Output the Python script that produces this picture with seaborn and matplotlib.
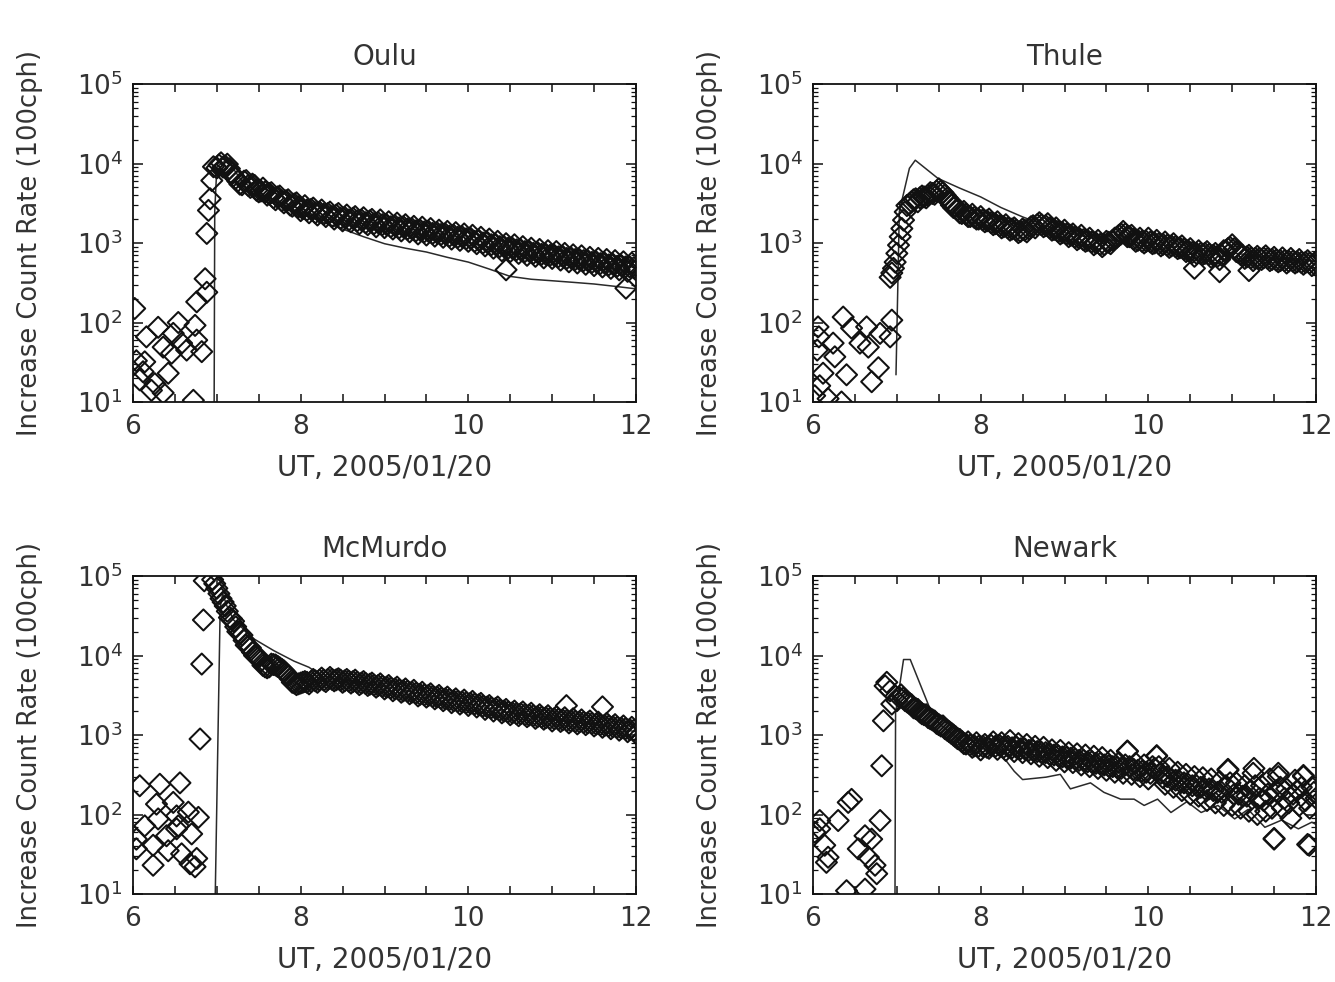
import numpy as np
import pandas as pd
import matplotlib
matplotlib.use("Agg")
import matplotlib.pyplot as plt
import seaborn as sns
from matplotlib.ticker import LogLocator, MultipleLocator, LogFormatterSciNotation, NullFormatter

# ---------------- data ----------------
STATIONS = ["Oulu", "Thule", "McMurdo", "Newark"]
X_TICKS = [6, 8, 10, 12]
X_LABEL = "UT, 2005/01/20"
Y_LABEL = "Increase Count Rate (100cph)"
STEP_H = 0.05  # sampling of each dense post-onset observation series (3 min)

# --- Oulu ---
OULU_PTS_T = [6.02, 6.04, 6.08, 6.12, 6.14, 6.16, 6.22, 6.26, 6.30, 6.36, 6.36, 6.42, 6.46, 6.48,
              6.54, 6.58, 6.64, 6.72, 6.74, 6.76, 6.76, 6.82, 6.86, 6.88, 6.88, 6.90, 6.92, 6.94,
              6.96, 10.45, 11.88]
OULU_PTS_V = [150, 33, 19, 24, 32, 66, 14, 17, 87, 13, 49, 23, 41, 73,
              100, 55, 45, 10.5, 92, 60, 182, 43, 355, 240, 1320, 2570, 3600, 6100,
              9100, 460, 270]
OULU_POST_START = 7.00
OULU_POST_V = [8800, 10200, 9300, 8600, 7000, 6000, 5400, 6100, 5000, 5300, 4400, 4900, 4000, 4300,
               3500, 3900, 3200, 3500, 2900, 3200,
               2550, 2950, 2400, 2750, 2250, 2600, 2150, 2450, 2000, 2350, 1900, 2250, 1850, 2150,
               1750, 2080, 1700, 1980, 1600, 1950,
               1560, 1850, 1500, 1780, 1420, 1700, 1380, 1620, 1300, 1580, 1260, 1520, 1220, 1450,
               1180, 1400, 1120, 1350, 1080, 1300,
               1050, 1250, 980, 1180, 920, 1120, 860, 1050, 800, 980, 780, 950, 740, 900,
               700, 860, 680, 830, 650, 800,
               640, 780, 610, 740, 580, 710, 560, 690, 540, 660, 520, 640, 500, 620,
               480, 600, 460, 580, 440, 560,
               460]
OULU_POST2_START = 7.025
OULU_POST2_V = [9600, 9000, 9800, 7600, 6500, 5500, 6000, 5300, 5500, 4600, 4500, 4400, 4200, 3700,
                3800, 3400, 3400, 3000, 3100, 2850,
                2700, 2600, 2650, 2400, 2450, 2300, 2350, 2150, 2250, 2050, 2100, 1950, 2050, 1900,
                1950, 1800, 1900, 1750, 1800, 1700,
                1700, 1600, 1650, 1550, 1600, 1500, 1520, 1420, 1450, 1380, 1400, 1320, 1350, 1280,
                1300, 1220, 1250, 1180, 1200, 1130,
                1150, 1050, 1080, 1000, 1020, 950, 960, 900, 900, 860, 860, 820, 820, 780,
                790, 740, 760, 720, 720, 700,
                700, 670, 680, 640, 650, 620, 620, 600, 600, 570, 580, 550, 560, 530,
                540, 510, 520, 500, 500, 490]
OULU_MODEL_T = [6.965, 6.975, 7.00, 7.05, 7.12, 7.20, 7.30, 7.50, 7.75, 8.00, 8.25, 8.50, 8.75, 9.00,
                9.25, 9.50, 9.75, 10.00, 10.25, 10.50, 10.75, 11.00, 11.25, 11.50, 11.75, 12.00]
OULU_MODEL_V = [1, 2500, 9000, 10000, 11000, 8500, 6000, 4300, 3200, 2350, 1850, 1500, 1200, 980,
                860, 770, 660, 575, 470, 380, 350, 335, 320, 305, 285, 265]

# --- Thule ---
THULE_PTS_T = [6.02, 6.05, 6.06, 6.07, 6.08, 6.12, 6.18, 6.24, 6.26, 6.34, 6.36, 6.40, 6.46, 6.56,
               6.64, 6.66, 6.70, 6.78, 6.80, 6.92, 6.94,
               6.92, 6.94, 6.96, 6.98, 7.00, 7.02, 7.04, 7.06, 7.08, 7.10, 7.12,
               10.55, 10.85, 11.20]
THULE_PTS_V = [12, 45, 88, 66, 16, 23, 11, 55, 37, 10, 117, 22, 85, 55,
               88, 49, 18, 27, 73, 66, 107,
               370, 420, 480, 575, 740, 940, 1200, 1520, 1940, 2460, 2960,
               480, 435, 450]
THULE_POST_START = 7.15
THULE_POST_V = [3100, 3500, 3300, 3900, 3700, 4300, 4100, 4800, 4300, 3700, 3000, 2900, 2400, 2500,
                2150, 2300, 2000,
                2150, 1850, 2000, 1700, 1850, 1550, 1700, 1450, 1550, 1350, 1500, 1380, 1600, 1550,
                1800, 1600, 1750, 1450, 1550, 1300,
                1450, 1200, 1300, 1100, 1250, 1050, 1150, 950, 1080, 900, 1050, 980, 1150, 1250,
                1400, 1200, 1250, 1050, 1150, 1000,
                1150, 980, 1080, 920, 1030, 880, 980, 850, 920, 780, 850, 680, 800, 720,
                780, 660, 740, 620, 800, 850,
                950, 780, 720, 640, 700, 600, 680, 620, 690, 600, 660, 580, 650, 560,
                640, 560, 620, 540, 600, 520,
                580]
THULE_POST2_START = 7.175
THULE_POST2_V = [3300, 3600, 3700, 3800, 4000, 4200, 4500, 4500, 4000, 3300, 2800, 2600, 2350, 2300,
                 2150, 2100, 2000,
                 1950, 1900, 1800, 1750, 1650, 1600, 1550, 1500, 1450, 1400, 1450, 1500, 1650, 1700,
                 1700, 1650, 1550, 1480, 1400, 1350,
                 1300, 1250, 1180, 1150, 1100, 1080, 1030, 1000, 960, 950, 1020, 1080, 1180, 1300,
                 1300, 1200, 1120, 1080, 1050, 1050,
                 1030, 1000, 980, 960, 940, 920, 900, 870, 840, 800, 760, 740, 740, 740,
                 720, 700, 680, 700, 800, 880,
                 850, 760, 700, 670, 650, 640, 640, 650, 640, 620, 610, 600, 600, 590,
                 590, 580, 570, 570, 560, 550]
THULE_MODEL_T = [6.99, 7.03, 7.15, 7.22, 7.49, 7.75, 8.00, 8.24, 8.50, 8.75, 9.00, 9.50, 10.00,
                 10.50, 11.00, 11.50, 12.00]
THULE_MODEL_V = [22, 2500, 8700, 11000, 6500, 4900, 3800, 2800, 2130, 1700, 1350, 1100, 1000,
                 850, 750, 650, 600]

# --- McMurdo ---
MCMURDO_PTS_T = [6.08, 6.32, 6.56, 6.28, 6.48, 6.14, 6.30, 6.52, 6.66, 6.78, 6.04, 6.24, 6.40,
                 6.52, 6.54, 6.70, 6.42, 6.58, 6.24, 6.68, 6.76, 6.74, 6.04,
                 6.80, 6.82, 6.84, 6.85, 11.17, 11.60]
MCMURDO_PTS_V = [230, 240, 250, 135, 142, 72, 88, 96, 107, 92, 49, 41, 54,
                 66, 72, 57, 35, 32, 23, 24, 28, 22, 37,
                 890, 7800, 28000, 87000, 2340, 2260]
MCMURDO_POST_START = 6.95
MCMURDO_POST_V = [90000,
                  70000, 52000, 42000, 30000, 27000, 20000, 18000, 13500, 12500, 10000, 9500, 7500,
                  7000, 7800, 7600, 7000, 6400, 5600, 4600, 4300,
                  4500, 4700, 4400, 5000, 4600, 5200, 4700, 5300, 4800, 5100, 4600, 5000, 4500,
                  4900, 4300, 4700, 4200, 4500, 4000, 4400,
                  3800, 4200, 3600, 4000, 3450, 3800, 3300, 3650, 3100, 3450, 3000, 3300, 2850,
                  3150, 2700, 3000, 2550, 2850, 2450, 2750,
                  2350, 2650, 2250, 2500, 2100, 2350, 2000, 2250, 1900, 2100, 1800, 2000, 1750,
                  1950, 1700, 1880, 1620, 1800, 1580, 1750,
                  1500, 1700, 1480, 1650, 1420, 1600, 1380, 1550, 1350, 1500, 1300, 1450, 1250,
                  1400, 1200, 1350, 1150, 1300, 1100, 1250,
                  1050]
MCMURDO_POST2_START = 6.975
MCMURDO_POST2_V = [80000, 60000, 47000, 36000, 29000, 23000, 19000, 15500, 13000, 11000, 9800, 8500,
                   7200, 7200, 7700, 7300, 6700, 6000, 5100, 4500, 4400,
                   4600, 4600, 4700, 4800, 4900, 4900, 5000, 5000, 4950, 4900, 4800, 4750, 4700,
                   4600, 4500, 4450, 4350, 4250, 4200, 4100,
                   4000, 3900, 3800, 3700, 3600, 3550, 3450, 3350, 3250, 3200, 3150, 3050, 3000,
                   2900, 2850, 2800, 2700, 2650, 2600, 2550,
                   2500, 2450, 2400, 2300, 2250, 2200, 2150, 2050, 2000, 1950, 1900, 1850, 1850,
                   1800, 1780, 1750, 1700, 1680, 1650, 1620,
                   1600, 1580, 1550, 1520, 1500, 1480, 1460, 1440, 1420, 1400, 1370, 1350, 1320,
                   1300, 1270, 1250, 1220, 1200, 1170, 1150]
MCMURDO_MODEL_T = [6.965, 7.04, 7.07, 7.12, 7.20, 7.45, 7.68, 7.92, 8.10, 8.25, 8.50, 9.00, 9.50,
                   10.00, 10.50, 11.00, 11.50, 12.00]
MCMURDO_MODEL_V = [1, 40000, 60000, 42000, 28000, 16000, 11500, 8500, 7100, 5500, 5000, 4100, 3200,
                   2500, 1900, 1550, 1350, 1100]

# --- Newark ---
NEWARK_PTS_T = [6.02, 6.08, 6.08, 6.14, 6.18, 6.16, 6.30, 6.42, 6.46, 6.40, 6.62, 6.54, 6.62,
                6.70, 6.66, 6.74, 6.76, 6.80, 6.82, 6.84, 6.86, 6.88, 6.92, 6.94,
                9.75, 10.10, 10.95, 11.26, 11.55, 11.85, 11.50, 11.92]
NEWARK_PTS_V = [60, 84, 66, 41, 29, 25, 84, 142, 155, 11, 11.5, 37, 54,
                49, 29, 23, 18, 84, 410, 1510, 4150, 4600, 3600, 2450,
                630, 550, 370, 380, 330, 310, 49, 41]
NEWARK_POST_START = 7.00
NEWARK_POST_V = [2700, 3200, 2700, 2500, 2200, 2100, 1850, 1800, 1600, 1500, 1350, 1300, 1150, 1050,
                 950, 880, 780, 820, 700, 800,
                 650, 760, 680, 820, 660, 800, 640, 850, 620, 780, 600, 760, 580, 720,
                 540, 700, 520, 650, 480, 640,
                 460, 600, 450, 580, 420, 560, 400, 540, 380, 520, 360, 480, 340, 450,
                 330, 620, 320, 440, 300, 420,
                 280, 400, 540, 330, 240, 380, 220, 340, 200, 320, 180, 300, 170, 290,
                 150, 280, 140, 260, 130, 360,
                 130, 250, 120, 230, 110, 330, 100, 230, 110, 280, 50, 300, 120, 210,
                 90, 270, 130, 300, 42, 220,
                 160]
NEWARK_POST2_START = 7.025
NEWARK_POST2_V = [3000, 2900, 2600, 2400, 2150, 1950, 1800, 1650, 1550, 1400, 1300, 1200, 1100, 1000,
                  900, 830, 770, 750, 730, 720,
                  720, 700, 740, 720, 740, 700, 720, 690, 700, 670, 670, 640, 640, 620,
                  600, 600, 570, 560, 550, 530,
                  520, 510, 500, 480, 480, 460, 460, 440, 440, 420, 410, 400, 390, 380,
                  420, 400, 370, 360, 350, 340,
                  330, 380, 400, 290, 300, 280, 270, 260, 250, 240, 230, 230, 220, 210,
                  210, 200, 190, 190, 230, 250,
                  180, 180, 170, 170, 200, 230, 160, 150, 180, 120, 200, 220, 160, 140,
                  180, 200, 220, 150, 120, 190]
NEWARK_MODEL_T = [6.975, 6.985, 7.08, 7.16, 7.38, 7.50, 7.75, 8.00, 8.20, 8.30, 8.40, 8.50, 8.78,
                  8.95, 9.07, 9.31, 9.47, 9.67, 9.83, 9.95, 10.11, 10.27, 10.46, 10.63, 10.83,
                  11.03, 11.19, 11.39, 11.59, 11.79, 11.95, 12.00]
NEWARK_MODEL_V = [1, 1900, 8900, 8900, 2350, 1400, 850, 700, 600, 480, 350, 275, 295,
                  320, 210, 250, 190, 156, 156, 130, 156, 106, 145, 106, 130,
                  88, 116, 69, 85, 66, 80, 75]

PANELS = {
    "Oulu": (OULU_PTS_T, OULU_PTS_V, [(OULU_POST_START, OULU_POST_V), (OULU_POST2_START, OULU_POST2_V)],
             OULU_MODEL_T, OULU_MODEL_V),
    "Thule": (THULE_PTS_T, THULE_PTS_V,
              [(THULE_POST_START, THULE_POST_V), (THULE_POST2_START, THULE_POST2_V)],
              THULE_MODEL_T, THULE_MODEL_V),
    "McMurdo": (MCMURDO_PTS_T, MCMURDO_PTS_V,
                [(MCMURDO_POST_START, MCMURDO_POST_V), (MCMURDO_POST2_START, MCMURDO_POST2_V)],
                MCMURDO_MODEL_T, MCMURDO_MODEL_V),
    "Newark": (NEWARK_PTS_T, NEWARK_PTS_V,
               [(NEWARK_POST_START, NEWARK_POST_V), (NEWARK_POST2_START, NEWARK_POST2_V)],
               NEWARK_MODEL_T, NEWARK_MODEL_V),
}

# ---------------- style ----------------
sns.set_style("ticks")
plt.rcParams["font.family"] = ["DejaVu Sans"]
plt.rcParams["mathtext.fontset"] = "dejavusans"
plt.rcParams["mathtext.default"] = "regular"
TXT = "#333333"

fig = plt.figure(figsize=(13.35, 9.82), dpi=100)
W, H = 1335.0, 982.0
boxes = {
    "Oulu": (133, 84, 636, 402),
    "Thule": (813, 84, 1316, 402),
    "McMurdo": (133, 576, 636, 894),
    "Newark": (813, 576, 1316, 894),
}

for name in STATIONS:
    x0, y0, x1, y1 = boxes[name]
    ax = fig.add_axes([x0 / W, 1 - y1 / H, (x1 - x0) / W, (y1 - y0) / H])
    pts_t, pts_v, series, mod_t, mod_v = PANELS[name]
    all_t, all_v = list(pts_t), list(pts_v)
    for start, vals in series:
        all_t += list(np.round(start + STEP_H * np.arange(len(vals)), 3))
        all_v += list(vals)
    obs = pd.DataFrame({"t": all_t, "v": all_v})
    model = pd.DataFrame({"t": mod_t, "v": mod_v})

    ax.set_yscale("log")
    sns.lineplot(data=model, x="t", y="v", estimator=None, sort=False, color="#2a2a2a",
                 linewidth=1.1, ax=ax, zorder=2)
    sns.scatterplot(data=obs, x="t", y="v", marker="D", s=115, facecolor="none",
                    edgecolor="#111111", linewidth=1.45, ax=ax, zorder=3)

    ax.set_xlim(6, 12)
    ax.set_ylim(10, 1e5)
    ax.set_xticks(X_TICKS)
    ax.xaxis.set_minor_locator(MultipleLocator(0.5))
    ax.yaxis.set_major_locator(LogLocator(base=10, numticks=10))
    ax.yaxis.set_major_formatter(LogFormatterSciNotation())
    ax.yaxis.set_minor_locator(LogLocator(base=10, subs=np.arange(2, 10), numticks=20))
    ax.yaxis.set_minor_formatter(NullFormatter())

    ax.tick_params(which="both", direction="in", top=True, right=True, colors="#111111")
    ax.tick_params(axis="x", which="both", length=6, width=1.1, pad=9, labelsize=19,
                   labelcolor=TXT)
    ax.tick_params(axis="y", which="major", length=7, width=1.1, pad=7, labelsize=19,
                   labelcolor=TXT)
    ax.tick_params(axis="y", which="minor", length=3.5, width=0.9)
    for sp in ax.spines.values():
        sp.set_linewidth(1.3)
        sp.set_color("#111111")

    ax.set_title(name, fontsize=20, color=TXT, pad=14)
    ax.set_xlabel(X_LABEL, fontsize=20, color=TXT, labelpad=10)
    ax.set_ylabel(Y_LABEL, fontsize=18.5, color=TXT, labelpad=24)
    ax.grid(False)

fig.savefig("out.png", dpi=100, facecolor="white")
